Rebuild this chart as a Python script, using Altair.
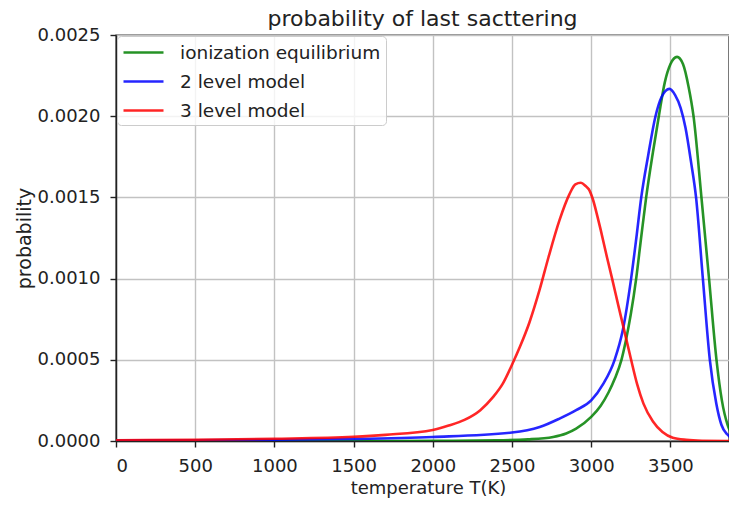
import altair as alt
import pandas as pd

# ---- data ----
series_names = ["ionization equilibrium", "2 level model", "3 level model"]
series_colors = ["#008000", "#0000ff", "#ff0000"]

green_T = [0, 1500, 2000, 2400, 2600, 2760, 2842, 2905, 3000, 3060, 3110, 3150, 3191,
           3217, 3250, 3284, 3315, 3347, 3390, 3427, 3465, 3500, 3542, 3580, 3615,
           3646, 3696, 3744, 3791, 3825, 3861, 3890, 3920]
green_P = [0.0, 0.0, 0.000001, 0.000004, 0.00001, 0.000025, 0.000046, 0.000076, 0.000148,
           0.000217, 0.0003, 0.000386, 0.0005, 0.00061, 0.00078, 0.001, 0.00125, 0.0015,
           0.00178, 0.002, 0.00221, 0.00232, 0.002365, 0.00232, 0.00218, 0.002, 0.0015,
           0.001, 0.0005, 0.00025, 0.0001, 0.00004, 0.00002]

blue_T = [0, 500, 1000, 1500, 2000, 2500, 2675, 2800, 2905, 3000, 3075, 3148, 3199, 3252,
          3285, 3316, 3360, 3406, 3445, 3494, 3530, 3565, 3595, 3630, 3662, 3705, 3749,
          3790, 3822, 3860, 3890, 3920]
blue_P = [0.000003, 0.000005, 0.000008, 0.000013, 0.000025, 0.000052, 0.000086, 0.000138,
          0.00019, 0.00025, 0.00035, 0.0005, 0.00068, 0.001, 0.00125, 0.0015, 0.00176, 0.002,
          0.00212, 0.002168, 0.00213, 0.00205, 0.00193, 0.00172, 0.0015, 0.001, 0.0005,
          0.00023, 0.0001, 0.00004, 0.000015, 0.000005]

red_T = [0, 500, 1000, 1500, 1700, 2000, 2100, 2200, 2300, 2380, 2440, 2505, 2550, 2610,
         2674, 2730, 2800, 2863, 2900, 2935, 2965, 2985, 3010, 3040, 3060, 3100, 3132, 3170,
         3210, 3252, 3290, 3330, 3390, 3450, 3515, 3600, 3700, 3920]
red_P = [0.000004, 0.000008, 0.000014, 0.000026, 0.000038, 0.000068, 0.000095, 0.00013,
         0.00019, 0.00027, 0.00035, 0.00048, 0.00058, 0.00073, 0.00093, 0.00113, 0.00136,
         0.00152, 0.00158, 0.00159, 0.00157, 0.00155, 0.00149, 0.00138, 0.0013, 0.00113,
         0.001, 0.00084, 0.000675, 0.0005, 0.00035, 0.00023, 0.00012, 0.000055, 0.00002,
         0.000007, 0.000002, 0.0]

x_ticks = [0, 500, 1000, 1500, 2000, 2500, 3000, 3500]
y_ticks = [0.0, 0.0005, 0.001, 0.0015, 0.002, 0.0025]

frames = []
for name, T, P in zip(series_names, [green_T, blue_T, red_T], [green_P, blue_P, red_P]):
    frames.append(pd.DataFrame({"T": T, "P": P, "model": name}))
df = pd.concat(frames, ignore_index=True)
df["order"] = df["model"].map({n: i for i, n in enumerate(series_names)})

FONT = "DejaVu Sans"
TXT = "#222222"

chart = alt.Chart(df).mark_line(
    clip=True, strokeWidth=2.6, strokeOpacity=0.85, interpolate="monotone"
).encode(
    x=alt.X("T:Q",
            scale=alt.Scale(domain=[0, 3870], nice=False, zero=False),
            axis=alt.Axis(values=x_ticks, format="d", title="temperature T(K)",
                          labelBaseline="alphabetic", labelPadding=24.8,
                          titleBaseline="alphabetic", titleY=52, titleX=312,
                          titleAlign="center")),
    y=alt.Y("P:Q",
            scale=alt.Scale(domain=[0, 0.0025], nice=False),
            axis=alt.Axis(values=y_ticks, format=".4f", title="probability",
                          labelPadding=10, labelBaseline="middle",
                          titleBaseline="alphabetic", titleAngle=270,
                          titleX=-85.5, titleY=203, titleAlign="center",
                          titleFontSize=19)),
    color=alt.Color("model:N",
                    scale=alt.Scale(domain=series_names, range=series_colors),
                    sort=series_names,
                    legend=alt.Legend(title=None, orient="none", legendX=1, legendY=1,
                                      padding=5, rowPadding=8, labelOffset=35,
                                      symbolType="M-1,0L3,0", symbolSize=400,
                                      symbolStrokeWidth=2.6, symbolOpacity=0.85,
                                      labelFontSize=18.5, labelFont=FONT,
                                      labelColor=TXT, labelLimit=400,
                                      fillColor="rgba(255,255,255,0.8)",
                                      strokeColor="#cccccc", cornerRadius=4)),
    detail="model:N",
    order="order:Q",
).properties(
    width=613,
    height=406,
    autosize=alt.AutoSizeParams(type="none"),
    padding={"left": 108, "top": 27, "right": 0, "bottom": 57},
    title=alt.TitleParams(text="probability of last sacttering", fontSize=22,
                          font=FONT, fontWeight="normal", color=TXT,
                          baseline="bottom", offset=8, dy=35, anchor="middle"),
).configure(
    font=FONT,
).configure_axis(
    labelFont=FONT, titleFont=FONT, labelFontSize=18, titleFontSize=18,
    labelColor=TXT, titleColor=TXT, titleFontWeight="normal",
    tickSize=6, tickColor=TXT, tickWidth=1.4,
    domainColor=TXT, domainWidth=1.4,
    grid=True, gridColor="#c2c2c2", gridWidth=1.4,
).configure_view(
    stroke=TXT, strokeWidth=1.4,
)

chart.save("out.html", embed_options={"renderer": "svg", "actions": False})
